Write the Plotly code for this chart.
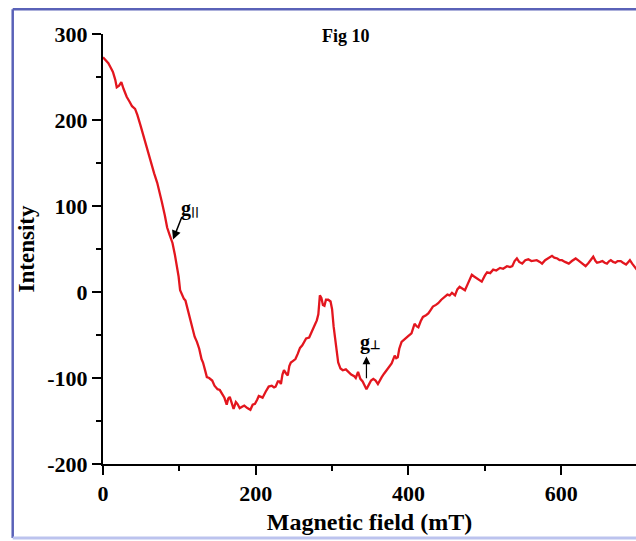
import plotly.graph_objects as go

field_mT = [0, 3, 7, 10, 13, 16, 18, 21, 24, 27, 31, 35, 38, 42, 45, 49, 53, 56, 60, 63,
            67, 71, 74, 77, 81, 84, 87, 91, 94, 97, 99, 101, 103, 106, 108, 110, 112, 115, 117, 120,
            123, 126, 129, 131, 134, 136, 139, 143, 146, 150, 153, 156, 159, 162, 164, 166, 169, 171, 174, 176,
            179, 182, 185, 189, 193, 196, 199, 202, 204, 207, 209, 213, 217, 221, 224, 226, 229, 231, 233, 235,
            237, 240, 242, 244, 246, 249, 252, 255, 258, 261, 264, 266, 270, 273, 277, 280, 282, 284, 286, 288,
            290, 292, 295, 298, 300, 302, 304, 306, 308, 311, 314, 318, 321, 325, 329, 331, 334, 337, 340, 343,
            345, 348, 351, 354, 357, 360, 362, 365, 368, 371, 375, 378, 382, 384, 386, 388, 391, 394, 397, 400,
            404, 406, 408, 411, 413, 416, 419, 423, 426, 429, 432, 436, 439, 443, 447, 451, 454, 457, 461, 464,
            467, 470, 474, 478, 483, 486, 489, 493, 496, 500, 503, 507, 511, 515, 520, 524, 529, 533, 536, 539,
            542, 545, 549, 553, 557, 561, 565, 568, 572, 575, 579, 582, 585, 588, 591, 595, 598, 601, 605, 610,
            614, 619, 622, 625, 629, 632, 636, 640, 642, 645, 647, 651, 654, 657, 660, 663, 665, 668, 671, 674,
            678, 681, 685, 688, 690, 693, 696, 699]
intensity = [273, 270, 266, 261, 256, 247, 238, 240, 244, 236, 227, 221, 216, 213, 206, 194, 181, 172, 158, 148,
             138, 127, 117, 105, 89, 75, 67, 57, 44, 30, 18, 2, -3, -8, -10, -17, -26, -36, -44, -52,
             -58, -66, -78, -82, -92, -99, -100, -103, -109, -113, -114, -119, -123, -131, -124, -122, -132, -136, -128, -130,
             -135, -133, -132, -135, -137, -131, -130, -125, -121, -122, -123, -116, -110, -109, -111, -110, -104, -104, -107, -96,
             -91, -95, -97, -86, -82, -80, -78, -72, -65, -62, -56, -54, -53, -46, -39, -33, -26, -4, -7, -15,
             -16, -9, -9, -11, -20, -40, -55, -70, -82, -89, -91, -90, -93, -96, -98, -100, -93, -101, -104, -110,
             -113, -108, -103, -101, -103, -107, -103, -99, -95, -91, -87, -83, -74, -77, -76, -66, -58, -56, -54, -51,
             -48, -42, -37, -40, -41, -34, -29, -27, -25, -21, -17, -15, -13, -9, -6, -3, -4, -1, -4, 3,
             6, 4, 2, 10, 20, 18, 16, 14, 12, 19, 23, 22, 26, 25, 28, 27, 30, 29, 30, 36,
             39, 35, 33, 37, 38, 36, 37, 37, 35, 33, 37, 39, 41, 42, 40, 39, 37, 37, 35, 33,
             36, 39, 37, 35, 33, 30, 34, 38, 41, 36, 34, 35, 36, 34, 33, 36, 37, 35, 34, 36,
             36, 34, 32, 35, 37, 33, 30, 26]

x_ticks = [0, 200, 400, 600]
y_ticks = [-200, -100, 0, 100, 200, 300]

FONT = "Liberation Serif, Times New Roman, serif"

fig = go.Figure()
fig.add_trace(go.Scatter(x=field_mT, y=intensity, mode="lines",
                         line=dict(color="#e3161e", width=2.3), showlegend=False,
                         hoverinfo="skip"))

axis_common = dict(showgrid=False, zeroline=False, showline=True, linecolor="black",
                   linewidth=2, ticks="outside", ticklen=9, tickwidth=2, tickcolor="black",
                   tickfont=dict(family=FONT, size=22, color="black", weight="bold"))

fig.update_xaxes(range=[0, 698], tickvals=x_ticks, ticktext=[str(v) for v in x_ticks],
                 minor=dict(ticks="outside", ticklen=5, tickwidth=2, tickcolor="black",
                            tick0=0, dtick=100),
                 title=dict(text="<b>Magnetic field (mT)</b>",
                            font=dict(family=FONT, size=24, color="black"), standoff=8),
                 **axis_common)
fig.update_yaxes(range=[-200, 300], tickvals=y_ticks, ticktext=[str(v) for v in y_ticks],
                 minor=dict(ticks="outside", ticklen=5, tickwidth=2, tickcolor="black",
                            tick0=0, dtick=50),
                 title=dict(text="<b>Intensity</b>",
                            font=dict(family=FONT, size=23, color="black"), standoff=6),
                 **axis_common)

annotations = [
    dict(text="<b>Fig 10</b>", xref="paper", yref="paper", x=0.456, y=1.023,
         showarrow=False, font=dict(family=FONT, size=18, color="black")),
    # g parallel
    dict(x=91.7, y=61, ax=104, ay=89, xref="x", yref="y", axref="x", ayref="y",
         text="", showarrow=True, arrowhead=2, arrowsize=1.2, arrowwidth=1.5, arrowcolor="black"),
    dict(text="<b>g</b><span style='font-family:DejaVu Sans;font-size:11px'><b>||</b></span>",
         xref="x", yref="y", x=114, y=97, showarrow=False,
         font=dict(family=FONT, size=20, color="black")),
    # g perpendicular
    dict(x=345, y=-75, ax=345, ay=-102, xref="x", yref="y", axref="x", ayref="y",
         text="", showarrow=True, arrowhead=2, arrowsize=1.3, arrowwidth=1.2, arrowcolor="black"),
    dict(text="<b>g</b><span style='font-size:12px'><b>⊥</b></span>", xref="x", yref="y",
         x=349, y=-59, showarrow=False, font=dict(family=FONT, size=20, color="black")),
]

shapes = [
    dict(type="line", xref="paper", yref="paper", x0=-0.1694, x1=1.05, y0=1.0574, y1=1.0574,
         line=dict(color="#5a62b8", width=2.5)),
    dict(type="line", xref="paper", yref="paper", x0=-0.1694, x1=-0.1694, y0=-0.172, y1=1.0574,
         line=dict(color="#5a62b8", width=2.5)),
    dict(type="line", xref="paper", yref="paper", x0=-0.1694, x1=1.05, y0=-0.172, y1=-0.172,
         line=dict(color="#bcc3ee", width=3)),
]

fig.update_layout(width=636, height=541, margin=dict(l=103, r=0, t=34, b=77),
                  plot_bgcolor="white", paper_bgcolor="white",
                  annotations=annotations, shapes=shapes,
                  font=dict(family=FONT, color="black"))

fig.write_html("out.html")
